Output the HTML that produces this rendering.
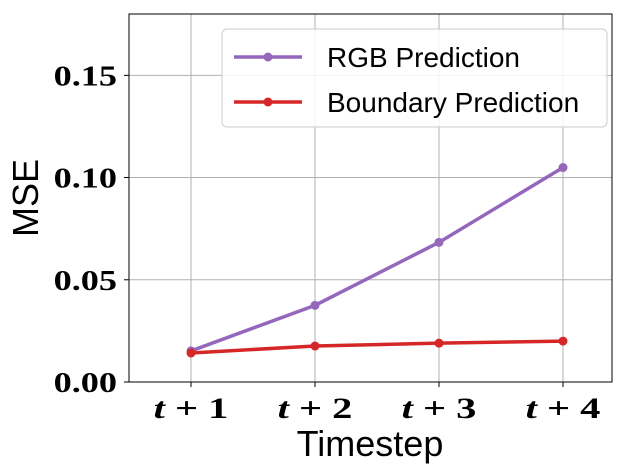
<!DOCTYPE html>
<html><head><meta charset="utf-8"><style>
html,body{margin:0;padding:0;background:#fff;}
svg{display:block;}
</style></head><body>
<svg id="chart" width="638" height="474" xmlns="http://www.w3.org/2000/svg"></svg>
<script>
const categories = ["t+1","t+2","t+3","t+4"];
const rgbValues = [0.0152, 0.0375, 0.0683, 0.1049];
const boundaryValues = [0.0142, 0.0176, 0.0190, 0.0200];
const yTicks = [0.00, 0.05, 0.10, 0.15];
const yTickLabels = ["0.00","0.05","0.10","0.15"];

const L=129,R=612,T=14,B=382,yMax=0.18;
const NS="http://www.w3.org/2000/svg";
const svg=document.getElementById('chart');
function x(i){return 191+i*124;}
function y(v){return B-(v/yMax)*(B-T);}
function el(tag,attrs,parent){const e=document.createElementNS(NS,tag);for(const k in attrs)e.setAttribute(k,attrs[k]);(parent||svg).appendChild(e);return e;}

categories.forEach((c,i)=>{
  const g=el('line',{x1:x(i),x2:x(i),y1:T,y2:B,stroke:'#b0b0b0','stroke-width':1});
  
  
  const tk=el('line',{x1:x(i),x2:x(i),y1:B,y2:B+5,stroke:'#000','stroke-width':1});
  
  
  const parts=c.split('+');
  const t=el('text',{x:0,y:0,transform:'translate('+x(i)+',418) scale(1.35,1)','text-anchor':'middle','font-family':'Liberation Serif, serif','font-size':30,'font-weight':'bold'});
  t.innerHTML='<tspan font-style="italic">'+parts[0]+'</tspan> + '+parts[1];
  
  
});
yTicks.forEach((v,i)=>{
  const g=el('line',{x1:L,x2:R,y1:y(v),y2:y(v),stroke:'#b0b0b0','stroke-width':1});
  
  
  const tk=el('line',{x1:L-5,x2:L,y1:y(v),y2:y(v),stroke:'#000','stroke-width':1});
  
  
  const t=el('text',{x:0,y:0,transform:'translate(117,'+(y(v)+10)+') scale(1.25,1)','text-anchor':'end','font-family':'Liberation Serif, serif','font-size':29,'font-weight':'bold'});
  t.textContent=yTickLabels[i];
  
  
});
const frame=el('rect',{x:L,y:T,width:R-L,height:B-T,fill:'none',stroke:'#000','stroke-width':1});



function series(vals,color,name){
  const pts=vals.map((v,i)=>x(i)+','+y(v)).join(' ');
  const pl=el('polyline',{points:pts,fill:'none',stroke:color,'stroke-width':3.5});
  
  
  vals.forEach((v,i)=>{
    const c=el('circle',{cx:x(i),cy:y(v),r:4.5,fill:color});
    
    
  });
}
series(rgbValues,'#9467bd','rgb-prediction');
series(boundaryValues,'#d62728','boundary-prediction');

const yt=el('text',{x:0,y:0,transform:'translate(38,198) rotate(-90)','text-anchor':'middle','font-family':'Liberation Sans, sans-serif','font-size':36});
yt.textContent='MSE';


const xt=el('text',{x:370,y:456,'text-anchor':'middle','font-family':'Liberation Sans, sans-serif','font-size':36});
xt.textContent='Timestep';



const lg=el('g',{});


el('rect',{x:222,y:29,width:385,height:98,rx:5,fill:'#fff','fill-opacity':0.85,stroke:'#ccc'},lg);
[['RGB Prediction','#9467bd',57],['Boundary Prediction','#d62728',102]].forEach(([lab,col,yy])=>{
  const g=el('g',{},lg);
  
  
  el('line',{x1:234,x2:302,y1:yy,y2:yy,stroke:col,'stroke-width':3.5},g);
  el('circle',{cx:268,cy:yy,r:4.5,fill:col},g);
  const t=el('text',{x:327,y:yy+10,'font-family':'Liberation Sans, sans-serif','font-size':28},g);
  t.textContent=lab;
});
</script>
</body></html>
